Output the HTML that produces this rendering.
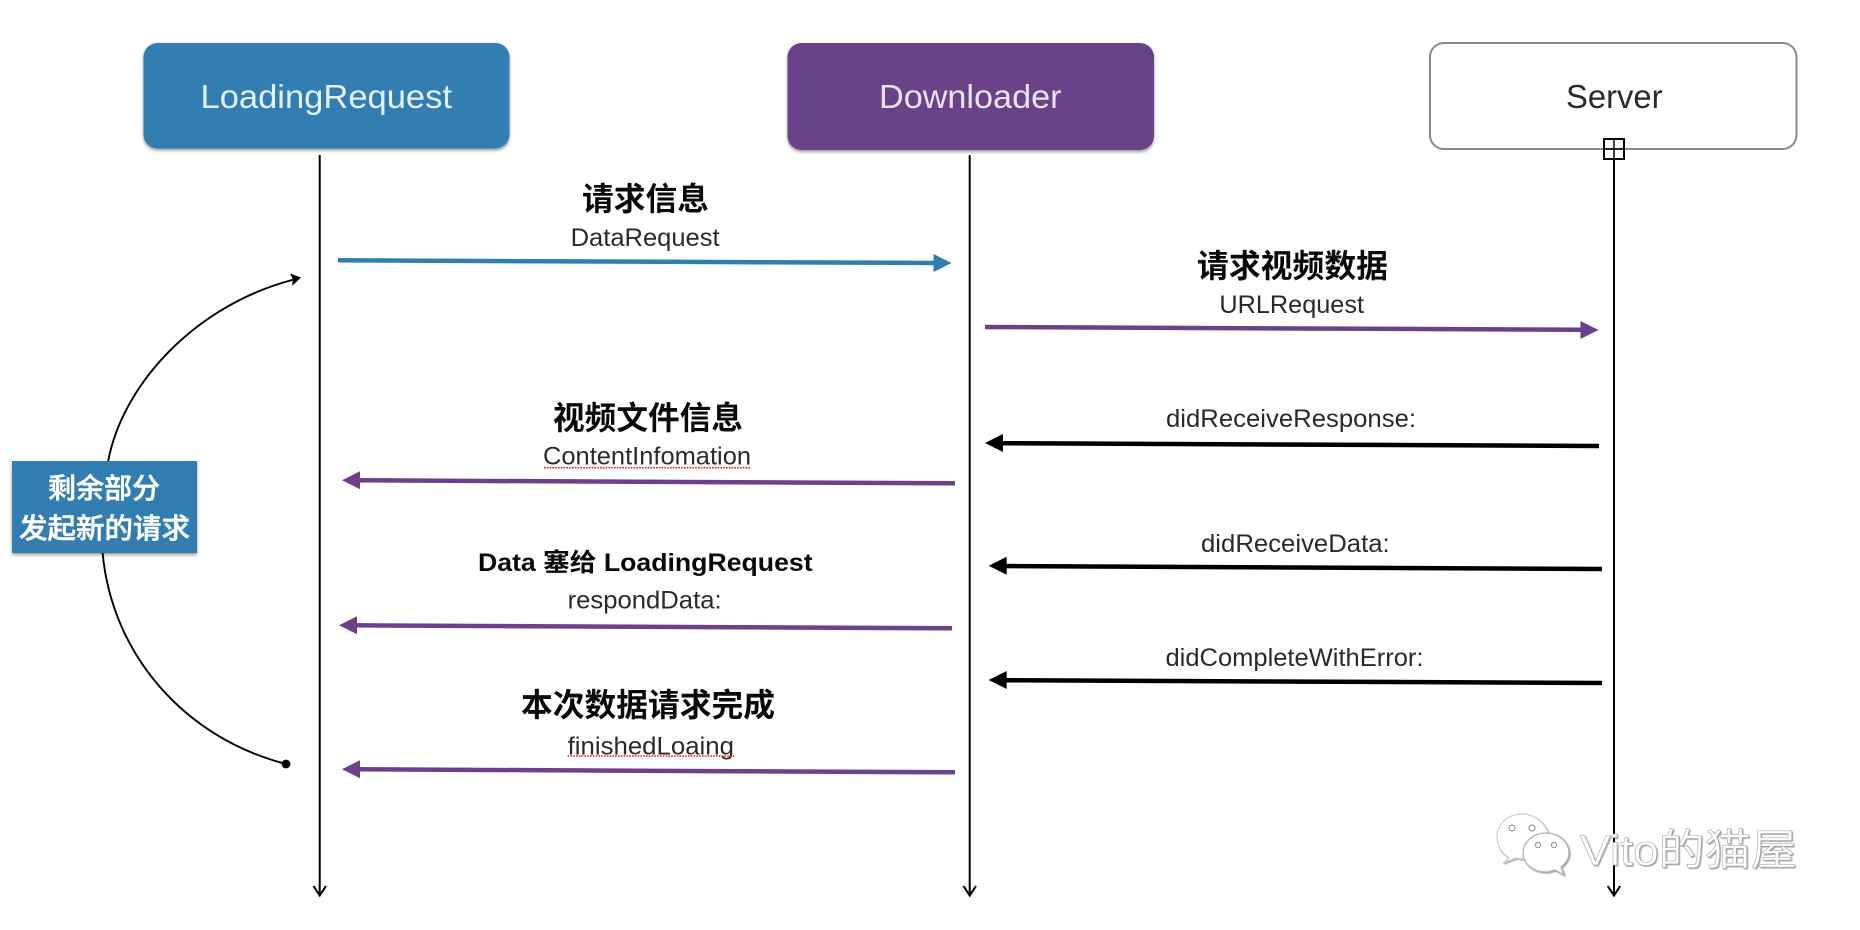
<!DOCTYPE html>
<html>
<head>
<meta charset="utf-8">
<style>
html,body{margin:0;padding:0;background:#fff;width:1860px;height:930px;overflow:hidden}
svg{display:block}
text{font-family:"Liberation Sans","Noto Sans CJK SC",sans-serif;text-anchor:start}
.c{font-weight:700;font-size:32px;fill:#0a0a0a}
.t{font-size:25px;fill:#2a2a2a}
.h{font-size:33px}
.wm{font-size:43px;fill:#fff;stroke:#a8a8a8;stroke-width:.55px}
</style>
</head>
<body>
<svg width="1860" height="930" viewBox="0 0 1860 930" xmlns="http://www.w3.org/2000/svg">
<defs>
<filter id="sh" x="-5%" y="-10%" width="110%" height="125%"><feDropShadow dx="0" dy="2" stdDeviation="1.6" flood-color="#000" flood-opacity=".4"/></filter>
<filter id="em" x="-5%" y="-10%" width="110%" height="125%"><feDropShadow dx="1" dy="1" stdDeviation=".4" flood-color="#555" flood-opacity=".6"/></filter>
</defs>
<rect width="1860" height="930" fill="#fff"/>

<!-- header boxes -->
<rect x="143.5" y="43" width="366" height="105.5" rx="14" fill="#307db1" filter="url(#sh)"/>
<rect x="787.5" y="43" width="366.5" height="107" rx="14" fill="#6b428a" filter="url(#sh)"/>
<rect x="1430" y="43" width="366.5" height="106" rx="14" fill="#fff" stroke="#8a8a8a" stroke-width="2"/>
<text class="h" x="200.5" y="108" fill="#e4f0f7" textLength="251.5" lengthAdjust="spacingAndGlyphs">LoadingRequest</text>
<text class="h" x="879" y="108" fill="#e9e2ef" textLength="182.5" lengthAdjust="spacingAndGlyphs">Downloader</text>
<text class="h" x="1566" y="108" fill="#2a2a2a" textLength="96.5" lengthAdjust="spacingAndGlyphs">Server</text>

<!-- lifelines -->
<g stroke="#000" stroke-width="2" fill="none">
<path d="M319.7 155V895"/>
<path d="M313.5 886L319.7 895.5L326 886"/>
<path d="M969.7 155V895"/>
<path d="M963.5 886L969.7 895.5L976 886"/>
<path d="M1614 159V895"/>
<path d="M1607.7 886L1614 895.5L1620.2 886"/>
<rect x="1604" y="139" width="20" height="20" stroke-width="2" fill="none"/>
<path d="M1604 149H1624M1614 139V159" stroke-width="1.5"/>
</g>

<!-- curved return path -->
<g stroke="#000" stroke-width="1.9" fill="none">
<path d="M108 462C122 385 195 305 294 279.5"/>
<path d="M102.6 553C112 655 185 738 286 764"/>
</g>
<polygon points="301,277.5 290,273.5 293,279.5 292,286" fill="#000"/>
<circle cx="286" cy="764" r="4.4" fill="#000"/>

<!-- side label -->
<rect x="12" y="461" width="185" height="92" fill="#307db1" filter="url(#sh)"/>
<g stroke="#fff" stroke-width=".5">
<text x="48" y="498" font-size="28" font-weight="500" fill="#fff" textLength="112" lengthAdjust="spacingAndGlyphs">剩余部分</text>
<text x="19" y="538" font-size="28" font-weight="500" fill="#fff" textLength="171" lengthAdjust="spacingAndGlyphs">发起新的请求</text>
</g>

<!-- message arrows -->
<g stroke-width="4.5" fill="none">
<path d="M338 260.3L936 263" stroke="#307db1"/>
<path d="M985 327L1584 329.8" stroke="#6b428a"/>
<path d="M955 483.3L356 480.3" stroke="#6b428a"/>
<path d="M952 628.3L353 625.3" stroke="#6b428a"/>
<path d="M955 772.3L356 769.3" stroke="#6b428a"/>
<path d="M1599 446L999 443.2" stroke="#000"/>
<path d="M1602 569L1003 566" stroke="#000"/>
<path d="M1602 683L1003 680.2" stroke="#000"/>
</g>
<polygon points="951.6,263 933.5,254 933.5,272" fill="#307db1"/>
<polygon points="1598.5,330 1580.5,321 1580.5,339" fill="#6b428a"/>
<polygon points="342,480.2 360,471.2 360,489.2" fill="#6b428a"/>
<polygon points="339,625.2 357,616.2 357,634.2" fill="#6b428a"/>
<polygon points="342,769.2 360,760.2 360,778.2" fill="#6b428a"/>
<polygon points="985,443 1003,434 1003,452" fill="#000"/>
<polygon points="988.7,565.8 1006.7,556.8 1006.7,574.8" fill="#000"/>
<polygon points="988.7,680 1006.7,671 1006.7,689" fill="#000"/>

<!-- labels -->
<text class="c" x="582" y="210" textLength="127" lengthAdjust="spacingAndGlyphs">请求信息</text>
<text class="t" x="570.6" y="246" textLength="149" lengthAdjust="spacingAndGlyphs">DataRequest</text>

<text class="c" x="1197" y="277" textLength="191" lengthAdjust="spacingAndGlyphs">请求视频数据</text>
<text class="t" x="1219.4" y="313" textLength="144.6" lengthAdjust="spacingAndGlyphs">URLRequest</text>

<text class="c" x="553" y="429" textLength="190" lengthAdjust="spacingAndGlyphs">视频文件信息</text>
<text class="t" x="543" y="464.5" textLength="208" lengthAdjust="spacingAndGlyphs">ContentInfomation</text>
<path d="M544 467.7H750.5" stroke="#e02020" stroke-width="1.6" stroke-dasharray="1.6 1.2" fill="none"/>

<text class="t" x="1166" y="427" textLength="250" lengthAdjust="spacingAndGlyphs">didReceiveResponse:</text>

<text x="478" y="571" font-size="25" font-weight="700" fill="#0a0a0a" textLength="334.6" lengthAdjust="spacingAndGlyphs">Data 塞给 LoadingRequest</text>
<text class="t" x="567.6" y="608.5" textLength="154" lengthAdjust="spacingAndGlyphs">respondData:</text>

<text class="t" x="1201" y="552" textLength="188.7" lengthAdjust="spacingAndGlyphs">didReceiveData:</text>
<text class="t" x="1165.5" y="666" textLength="258" lengthAdjust="spacingAndGlyphs">didCompleteWithError:</text>

<text class="c" x="521" y="716" textLength="254" lengthAdjust="spacingAndGlyphs">本次数据请求完成</text>
<text class="t" x="567.6" y="754.5" textLength="166.4" lengthAdjust="spacingAndGlyphs">finishedLoaing</text>
<path d="M567.6 756H734" stroke="#e02020" stroke-width="1.6" stroke-dasharray="1.6 1.2" fill="none"/>

<!-- watermark -->
<g filter="url(#em)">
<path d="M1522 814C1507 814 1497 825 1497 837C1497 847 1503 854 1509 858L1503 863L1516 858C1520 859 1524 859 1527 859L1548 832C1543 821 1534 814 1522 814Z" fill="#fff" stroke="#cfcfcf" stroke-width="1.2"/>
<path d="M1546 833C1532 833 1523 843 1523 853C1523 863 1532 872 1546 872C1549 872 1552 871 1555 870L1564 875L1561 867C1566 863 1569 858 1569 853C1569 843 1560 833 1546 833Z" fill="#fff" stroke="#b4b4b4" stroke-width="1.3"/>
<circle cx="1512" cy="828" r="3" fill="#fff" stroke="#999" stroke-width="1.2"/>
<circle cx="1532" cy="828" r="3" fill="#fff" stroke="#999" stroke-width="1.2"/>
<circle cx="1538" cy="845" r="2.6" fill="#fff" stroke="#999" stroke-width="1.2"/>
<circle cx="1554" cy="845" r="2.6" fill="#fff" stroke="#999" stroke-width="1.2"/>
<text class="wm" x="1580" y="865" textLength="217" lengthAdjust="spacingAndGlyphs">Vito的猫屋</text>
</g>
</svg>
</body>
</html>
